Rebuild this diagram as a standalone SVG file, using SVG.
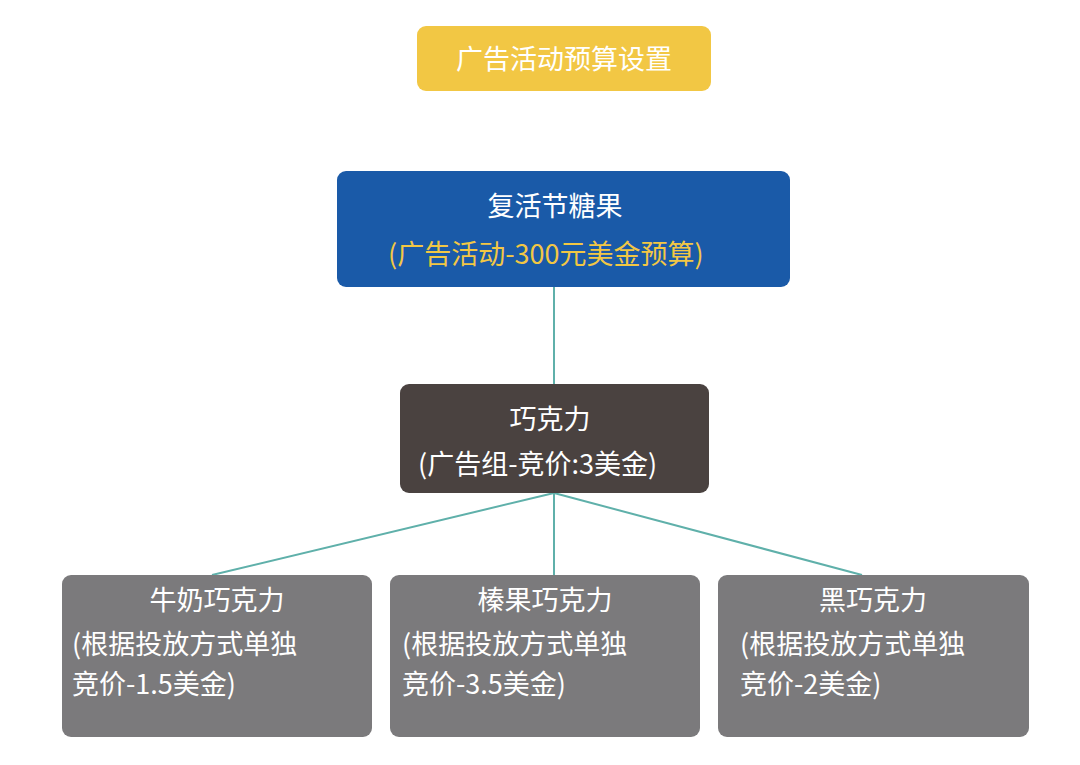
<svg xmlns="http://www.w3.org/2000/svg" width="1080" height="765" viewBox="0 0 1080 765">
<style>
text{font-family:"Noto Sans CJK SC","Noto Sans",sans-serif;font-size:27px;fill:#fff}
.c{text-anchor:middle}
.g{fill:#F2C744}
.gray{fill:#7B7A7C}
line{stroke:#5FB0AA;stroke-width:2}
</style>
<rect width="1080" height="765" fill="#fff"/>
<g id="title"><rect x="417" y="26" width="294" height="65" rx="9" fill="#F2C744"/><text class="c" x="564" y="69">广告活动预算设置</text></g>
<g id="connectors">
<line x1="554" y1="287" x2="554" y2="384"/>
<line x1="554" y1="493" x2="554" y2="575"/>
<line x1="554" y1="493" x2="212" y2="575"/>
<line x1="554" y1="493" x2="862" y2="575"/>
</g>
<g id="campaign"><rect x="337" y="171" width="453" height="116" rx="9" fill="#1A5AA8"/><text class="c" x="555" y="216">复活节糖果</text><text x="388" y="264" class="g">(广告活动-300元美金预算)</text></g>
<g id="adgroup"><rect x="400" y="384" width="309" height="109" rx="9" fill="#4A4240"/><text class="c" x="550" y="429">巧克力</text><text x="418" y="474">(广告组-竞价:3美金)</text></g>
<g id="milk"><rect x="62" y="575" width="310" height="162" rx="9" class="gray"/><text class="c" x="217" y="610">牛奶巧克力</text><text x="72" y="654">(根据投放方式单独</text><text x="72" y="694">竞价-1.5美金)</text></g>
<g id="hazel"><rect x="390" y="575" width="310" height="162" rx="9" class="gray"/><text class="c" x="545" y="610">榛果巧克力</text><text x="402" y="654">(根据投放方式单独</text><text x="402" y="694">竞价-3.5美金)</text></g>
<g id="dark"><rect x="718" y="575" width="311" height="162" rx="9" class="gray"/><text class="c" x="873" y="610">黑巧克力</text><text x="740" y="654">(根据投放方式单独</text><text x="740" y="694">竞价-2美金)</text></g>
</svg>
